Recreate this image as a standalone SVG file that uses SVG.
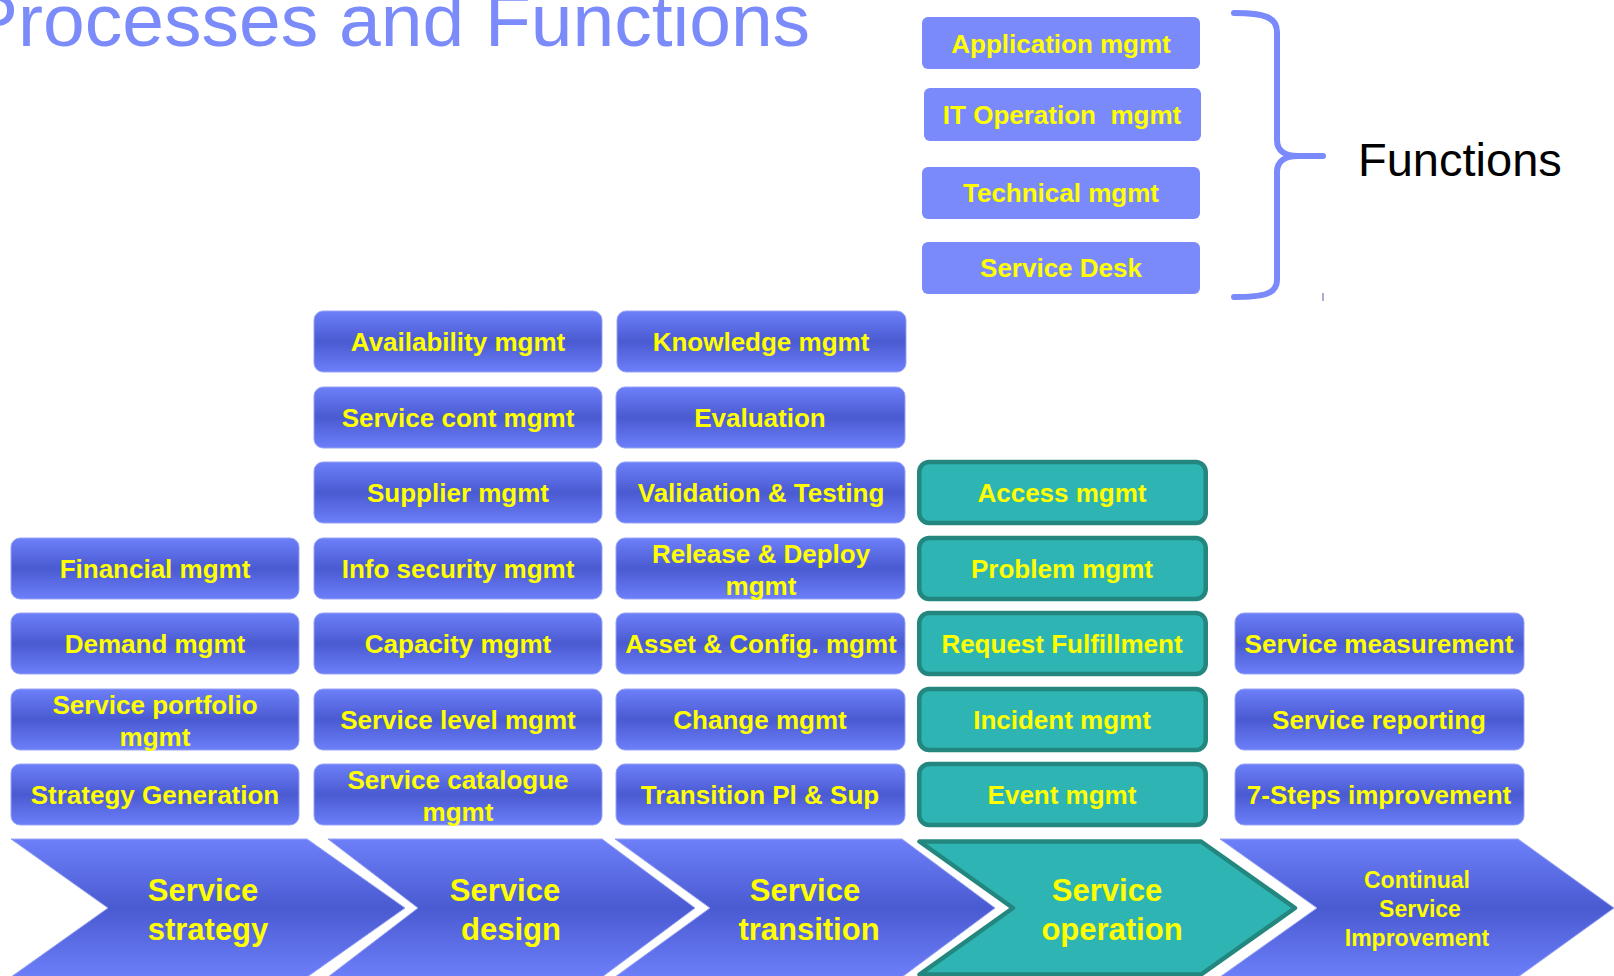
<svg xmlns="http://www.w3.org/2000/svg" width="1614" height="976" viewBox="0 0 1614 976">
<defs>
<linearGradient id="blue" x1="0" y1="0" x2="0" y2="1">
<stop offset="0" stop-color="#6D80F9"/>
<stop offset="0.5" stop-color="#4A5AD1"/>
<stop offset="1" stop-color="#6C7FF9"/>
</linearGradient>
<style>
.bx{fill:url(#blue);stroke:#97A3F4;stroke-width:1}
.tl{fill:#2EB5B3;stroke:#23867F;stroke-width:4.5}
.fn{fill:#7A8AFB}
.lb{font-family:"Liberation Sans",Arial,sans-serif;font-weight:bold;font-size:26px;fill:#FFFF00;text-anchor:middle}
.cv{font-family:"Liberation Sans",Arial,sans-serif;font-weight:bold;font-size:31px;fill:#FFFF00;text-anchor:middle}
.cs{font-family:"Liberation Sans",Arial,sans-serif;font-weight:bold;font-size:23px;fill:#FFFF00;text-anchor:middle}
</style>
</defs>
<rect width="1614" height="976" fill="#FFFFFF"/>
<text id="title" x="-32" y="46" font-family="'Liberation Sans',Arial,sans-serif" font-size="75" fill="#7B8BFA">Processes and Functions</text>

<g id="functions">
<g id="f-app"><rect class="fn" x="922" y="17" width="278" height="52" rx="6"/><text class="lb" x="1061" y="53">Application mgmt</text></g>
<g id="f-itop"><rect class="fn" x="924" y="88" width="277" height="53" rx="6"/><text class="lb" x="1062" y="124" style="white-space:pre">IT Operation  mgmt</text></g>
<g id="f-tech"><rect class="fn" x="922" y="167" width="278" height="52" rx="6"/><text class="lb" x="1061" y="202">Technical mgmt</text></g>
<g id="f-desk"><rect class="fn" x="922" y="242" width="278" height="52" rx="6"/><text class="lb" x="1061" y="277">Service Desk</text></g>
</g>

<g id="connectors">
<path d="M1234,13 C1264,13 1277,17 1277,32 L1277,140 C1277,151 1285,156 1298,156 L1323,156 M1298,156 C1285,156 1277,161 1277,172 L1277,280 C1277,294 1264,297 1234,297" fill="none" stroke="#7A8AFB" stroke-width="6" stroke-linecap="round"/>
<line x1="1323" y1="293" x2="1323" y2="301" stroke="#8A94C8" stroke-width="1.5"/>
</g>
<text id="functions-label" x="1358" y="176" font-family="'Liberation Sans',Arial,sans-serif" font-size="47" fill="#000000">Functions</text>

<g id="col-strategy">
<g id="financial"><rect class="bx" x="11" y="538" width="288" height="61" rx="9"/><text class="lb" x="155" y="578">Financial mgmt</text></g>
<g id="demand"><rect class="bx" x="11" y="613" width="288" height="61" rx="9"/><text class="lb" x="155" y="653">Demand mgmt</text></g>
<g id="portfolio"><rect class="bx" x="11" y="689" width="288" height="61" rx="9"/><text class="lb" x="155" y="714">Service portfolio</text><text class="lb" x="155" y="746">mgmt</text></g>
<g id="stratgen"><rect class="bx" x="11" y="764" width="288" height="61" rx="9"/><text class="lb" x="155" y="804">Strategy Generation</text></g>
</g>

<g id="col-design">
<g id="availability"><rect class="bx" x="314" y="311" width="288" height="61" rx="9"/><text class="lb" x="458" y="351">Availability mgmt</text></g>
<g id="servcont"><rect class="bx" x="314" y="387" width="288" height="61" rx="9"/><text class="lb" x="458" y="427">Service cont mgmt</text></g>
<g id="supplier"><rect class="bx" x="314" y="462" width="288" height="61" rx="9"/><text class="lb" x="458" y="502">Supplier mgmt</text></g>
<g id="infosec"><rect class="bx" x="314" y="538" width="288" height="61" rx="9"/><text class="lb" x="458" y="578">Info security mgmt</text></g>
<g id="capacity"><rect class="bx" x="314" y="613" width="288" height="61" rx="9"/><text class="lb" x="458" y="653">Capacity mgmt</text></g>
<g id="servlevel"><rect class="bx" x="314" y="689" width="288" height="61" rx="9"/><text class="lb" x="458" y="729">Service level mgmt</text></g>
<g id="catalogue"><rect class="bx" x="314" y="764" width="288" height="61" rx="9"/><text class="lb" x="458" y="789">Service catalogue</text><text class="lb" x="458" y="821">mgmt</text></g>
</g>

<g id="col-transition">
<g id="knowledge"><rect class="bx" x="617" y="311" width="289" height="61" rx="9"/><text class="lb" x="761" y="351">Knowledge mgmt</text></g>
<g id="evaluation"><rect class="bx" x="616" y="387" width="289" height="61" rx="9"/><text class="lb" x="760" y="427">Evaluation</text></g>
<g id="validation"><rect class="bx" x="616" y="462" width="289" height="61" rx="9"/><text class="lb" x="761" y="502">Validation &amp; Testing</text></g>
<g id="release"><rect class="bx" x="616" y="538" width="289" height="61" rx="9"/><text class="lb" x="761" y="563">Release &amp; Deploy</text><text class="lb" x="761" y="595">mgmt</text></g>
<g id="asset"><rect class="bx" x="616" y="613" width="289" height="61" rx="9"/><text class="lb" x="761" y="653">Asset &amp; Config. mgmt</text></g>
<g id="change"><rect class="bx" x="616" y="689" width="289" height="61" rx="9"/><text class="lb" x="760" y="729">Change mgmt</text></g>
<g id="transpl"><rect class="bx" x="616" y="764" width="289" height="61" rx="9"/><text class="lb" x="760" y="804">Transition Pl &amp; Sup</text></g>
</g>

<g id="col-operation">
<g id="access"><rect class="tl" x="919.25" y="462" width="286.5" height="61" rx="10"/><text class="lb" x="1062" y="502">Access mgmt</text></g>
<g id="problem"><rect class="tl" x="919.25" y="538" width="286.5" height="61" rx="10"/><text class="lb" x="1062" y="578">Problem mgmt</text></g>
<g id="request"><rect class="tl" x="919.25" y="613" width="286.5" height="61" rx="10"/><text class="lb" x="1062" y="653">Request Fulfillment</text></g>
<g id="incident"><rect class="tl" x="919.25" y="689" width="286.5" height="61" rx="10"/><text class="lb" x="1062" y="729">Incident mgmt</text></g>
<g id="event"><rect class="tl" x="919.25" y="764" width="286.5" height="61" rx="10"/><text class="lb" x="1062" y="804">Event mgmt</text></g>
</g>

<g id="col-csi">
<g id="measurement"><rect class="bx" x="1235" y="613" width="289" height="61" rx="9"/><text class="lb" x="1379" y="653">Service measurement</text></g>
<g id="reporting"><rect class="bx" x="1235" y="689" width="289" height="61" rx="9"/><text class="lb" x="1379" y="729">Service reporting</text></g>
<g id="sevensteps"><rect class="bx" x="1235" y="764" width="289" height="61" rx="9"/><text class="lb" x="1379" y="804">7-Steps improvement</text></g>
</g>

<g id="phases">
<g id="ph-strategy"><polygon class="bx" points="11,839 307,839 405,908 307,977 11,977 108,908"/><text class="cv" x="203" y="901">Service</text><text class="cv" x="208" y="940">strategy</text></g>
<g id="ph-design"><polygon class="bx" points="328,839 602,839 695,908 602,977 328,977 418,908"/><text class="cv" x="505" y="901">Service</text><text class="cv" x="511" y="940">design</text></g>
<g id="ph-transition"><polygon class="bx" points="615,839 902,839 995,908 902,977 615,977 710,908"/><text class="cv" x="805" y="901">Service</text><text class="cv" x="809" y="940">transition</text></g>
<g id="ph-operation"><polygon class="tl" stroke-width="5" stroke-linejoin="round" points="919.5,841.5 1201,841.5 1295,908 1201,974.5 919.5,974.5 1013,908"/><text class="cv" x="1107" y="901">Service</text><text class="cv" x="1112" y="940">operation</text></g>
<g id="ph-csi"><polygon class="bx" points="1220,839 1518,839 1614,908 1518,977 1220,977 1317,908"/><text class="cs" x="1417" y="888">Continual</text><text class="cs" x="1420" y="917">Service</text><text class="cs" x="1417" y="946">Improvement</text></g>
</g>
</svg>
